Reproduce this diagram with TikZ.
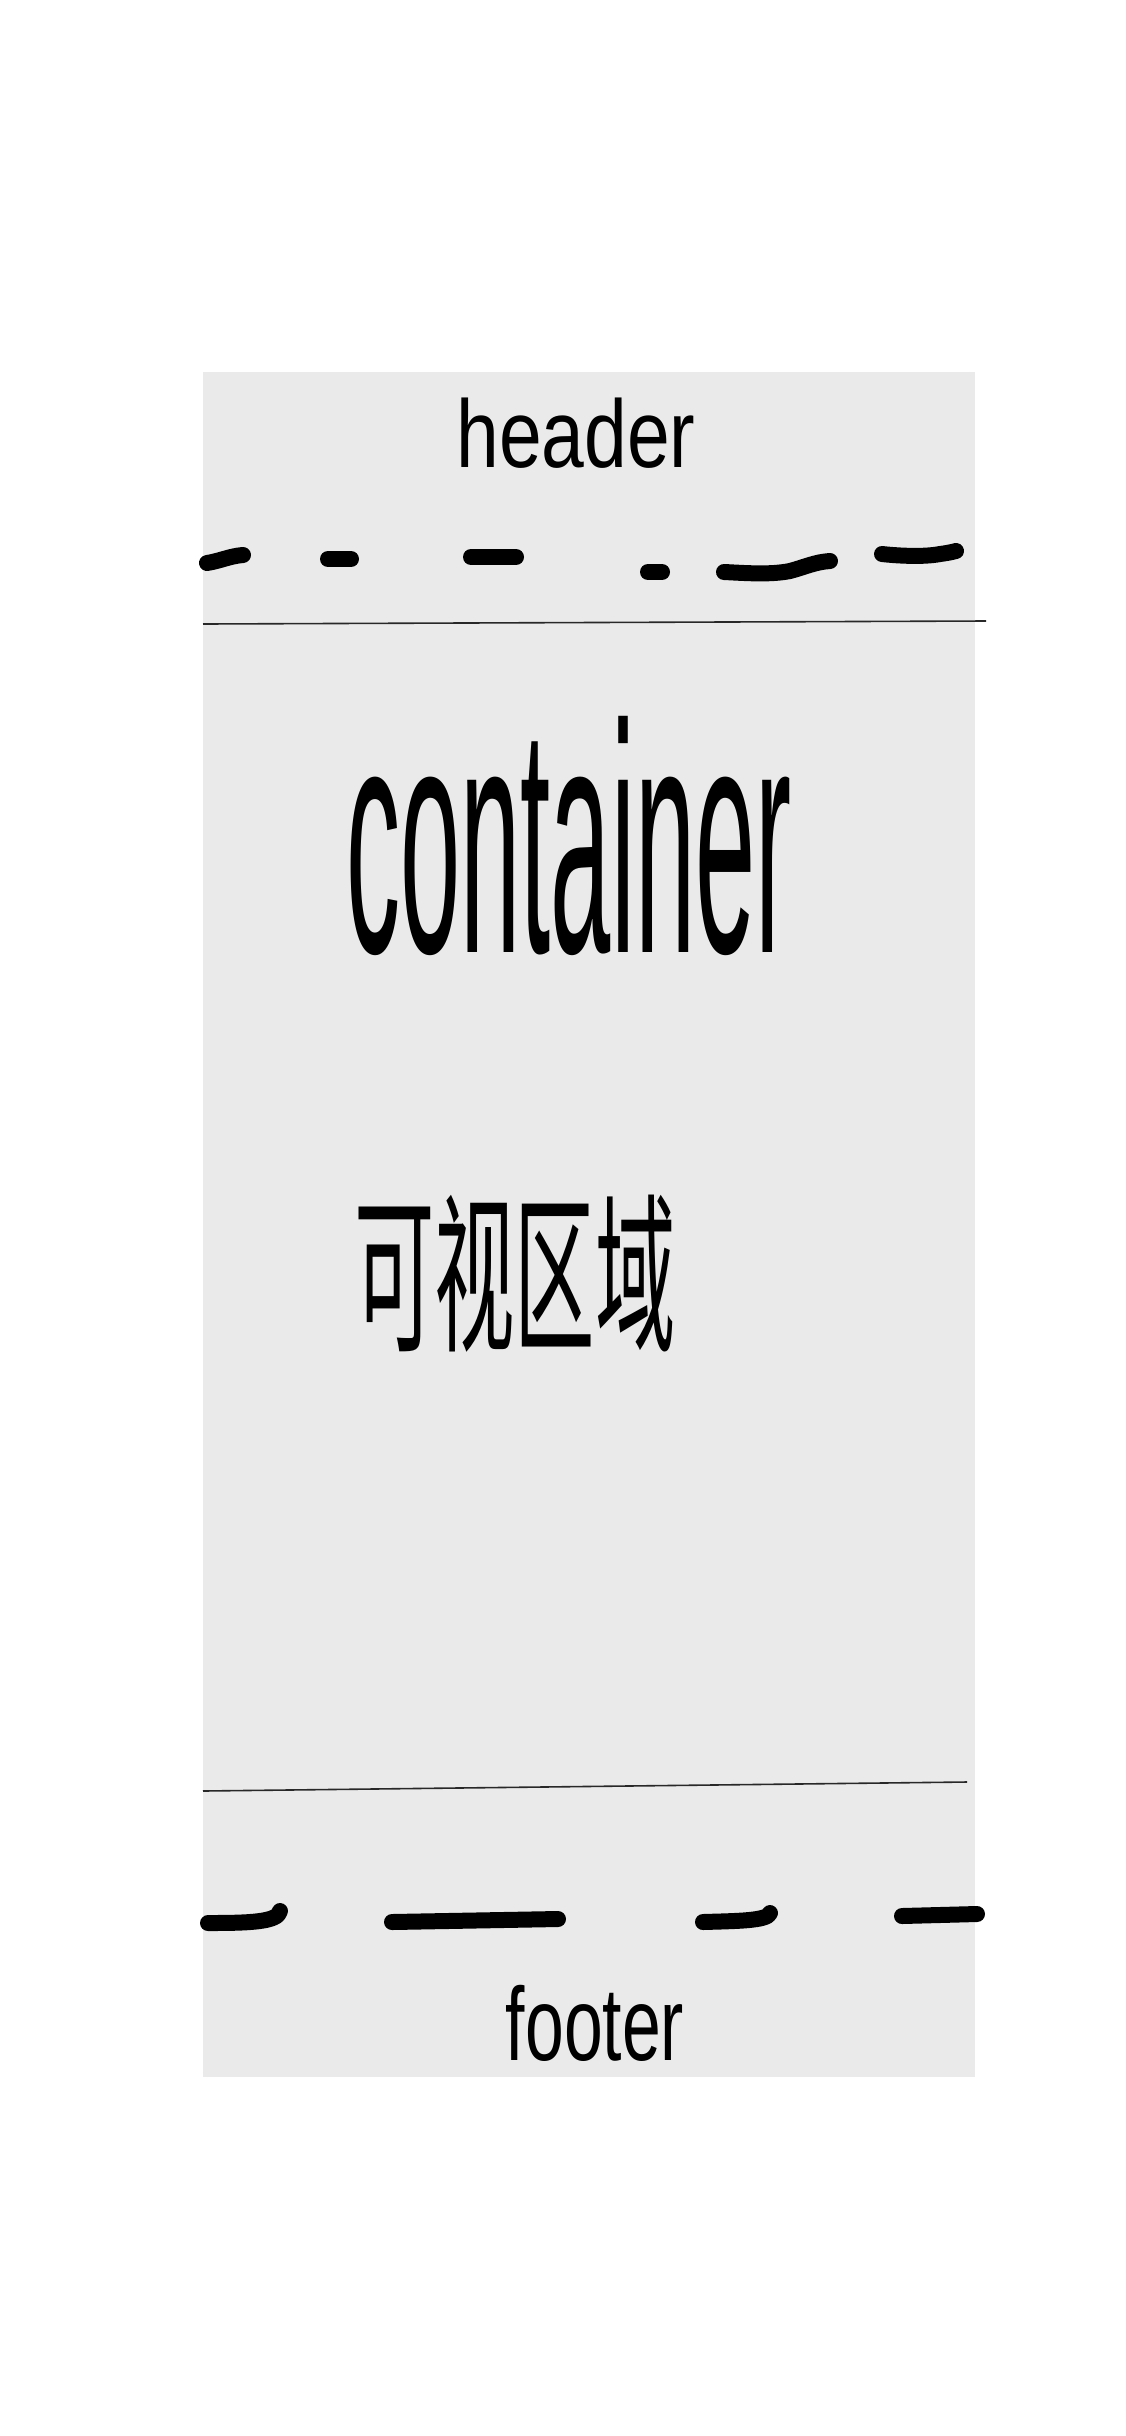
\documentclass[tikz,border=0pt]{standalone}
\usepackage{fontspec}
\usepackage{graphicx}
\setmainfont{Liberation Sans}
\newfontfamily\cjkfont{Noto Sans CJK SC}
\definecolor{panelgray}{RGB}{234,234,234}
\definecolor{rulegray}{RGB}{40,40,40}
\tikzset{
  panel/.style={fill=panelgray, draw=none},
  divider/.style={draw=rulegray, line width=1.6pt},
  wobble/.style={draw=black, line width=16pt, line cap=round, line join=round},
  label/.style={inner sep=0pt, outer sep=0pt, text=black}
}
\begin{document}
\begin{tikzpicture}[x=1pt,y=-1pt]
\useasboundingbox (0,0) rectangle (1125,2436);
\fill[white] (0,0) rectangle (1125,2436);
% panel
\path[panel] (203,372) rectangle (975,2077);
% dividers
\draw[divider] (203,624) -- (986,621);
\draw[divider] (203,1791) -- (967,1782);
% header dashes
\draw[wobble] (207,563) .. controls (220,561) and (230,556) .. (243,555);
\draw[wobble] (328,559) -- (351,559);
\draw[wobble] (471,557) -- (516,557);
\draw[wobble] (648,572) -- (662,572);
\draw[wobble] (724,572) .. controls (745,573) and (770,575) .. (790,571) .. controls (805,567) and (815,562) .. (830,561);
\draw[wobble] (882,554) .. controls (900,556) and (925,557) .. (940,554) .. controls (948,553) and (952,552) .. (956,551);
% footer dashes
\draw[wobble] (208,1923) .. controls (250,1923) and (278,1922) .. (280,1911);
\draw[wobble] (392,1922) -- (558,1919);
\draw[wobble] (703,1922) .. controls (735,1921) and (768,1921) .. (770,1913);
\draw[wobble] (902,1916) -- (977,1914);
% texts
\node[label, anchor=base] (header) at (576,467) {\scalebox{0.80}[1]{\fontsize{96}{96}\selectfont header}};
\node[label, anchor=base] (container) at (569,952) {\scalebox{0.332}[1]{\fontsize{326}{326}\selectfont container}};
\node[label, anchor=base west] (visible) at (354,1338) {\scalebox{0.47}[1]{\fontsize{171}{171}\selectfont\cjkfont 可视区域}};
\node[label, anchor=base] (footer) at (595,2060) {\scalebox{0.67}[1]{\fontsize{104}{104}\selectfont footer}};
\end{tikzpicture}
\end{document}
